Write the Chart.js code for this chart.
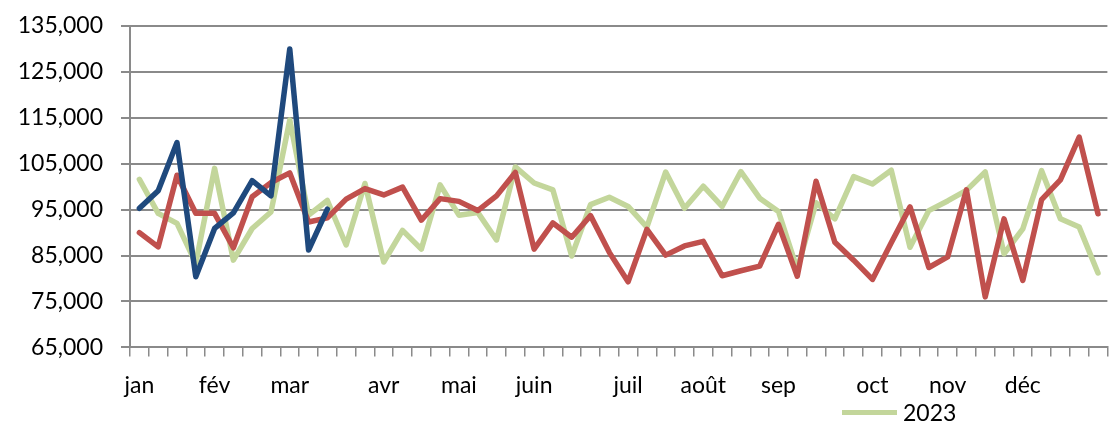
<!DOCTYPE html>
<html>
<head>
<meta charset="utf-8">
<script src="https://cdn.jsdelivr.net/npm/chart.js@4/dist/chart.umd.min.js"></script>
<style>
  html, body { margin: 0; padding: 0; background: #fff; }
  #wrap { position: relative; width: 1113px; height: 424px; overflow: hidden; }
  #legend { position: absolute; left: 842px; top: 398px; font: 23px Lato, sans-serif; color: #000; display: flex; align-items: center; white-space: nowrap; }
  #legend .swatch { display: inline-block; width: 55px; height: 5px; margin-right: 6px; }
</style>
</head>
<body>
<div id="wrap">
  <canvas id="chart" width="1113" height="424"></canvas>
  <div id="legend"></div>
</div>
<script>
// week labels: month name on the first week of each month
const weekLabels = [
  'jan', '', '', '', 'fév', '', '', '', 'mar', '', '', '', '', 'avr', '', '', '', 'mai', '', '', '', 'juin', '', '', '', '',
  'juil', '', '', '', 'août', '', '', '', 'sep', '', '', '', '', 'oct', '', '', '', 'nov', '', '', '', 'déc', '', '', '', ''
];

const series2023 = [
  101600, 94200, 92000, 83300, 104000, 84000, 90900, 94500, 114500, 93800, 97000, 87300, 100700,
  83600, 90500, 86400, 100400, 93800, 94400, 88400, 104300, 100800, 99300, 84900, 96100, 97700,
  95700, 91200, 103200, 95300, 100100, 95700, 103300, 97500, 94600, 82000, 96500, 93000, 102200,
  100600, 103600, 86800, 94800, 96900, 99200, 103200, 85400, 90800, 103500, 93000, 91200, 81200
];

const series2024 = [
  90000, 86900, 102500, 94200, 94200, 86700, 97800, 100900, 103000, 92300, 93200, 97300, 99600,
  98200, 99900, 92700, 97400, 96800, 94800, 98000, 103100, 86400, 92100, 89000, 93700, 85700,
  79300, 90700, 85100, 87100, 88100, 80600, 81700, 82700, 91800, 80500, 101200, 87900, 84000,
  79800, 87800, 95600, 82400, 84700, 99300, 76000, 93000, 79600, 97200, 101500, 110800, 94100
];

const series2025 = [95300, 99100, 109600, 80400, 90900, 94300, 101300, 98000, 130000, 86200, 95100];

const yTickValues = [65000, 75000, 85000, 95000, 105000, 115000, 125000, 135000];

const seriesNames = ['2023', '2024', '2025'];
const seriesColors = ['#c3d69b', '#c0504d', '#1f497d'];
const legendShown = ['2023'];

const gridColor = '#8a8a8a';
const font = { family: 'Lato, sans-serif', size: 23 };

function lineSet(i, values, order) {
  return {
    label: seriesNames[i],
    data: values,
    borderColor: seriesColors[i],
    backgroundColor: seriesColors[i],
    borderWidth: 5.5,
    pointRadius: 0,
    tension: 0,
    borderJoinStyle: 'round',
    borderCapStyle: 'round',
    order: order
  };
}

const chart = new Chart(document.getElementById('chart'), {
  type: 'line',
  data: {
    labels: weekLabels,
    datasets: [
      lineSet(0, series2023, 2),
      lineSet(1, series2024, 1),
      lineSet(2, series2025, 0)
    ]
  },
  options: {
    responsive: false,
    animation: false,
    layout: { padding: { top: 26, right: 1, bottom: 10, left: 0 } },
    plugins: {
      legend: { display: false },
      tooltip: { enabled: false }
    },
    scales: {
      x: {
        offset: true,
        grid: { offset: true, drawOnChartArea: false, drawTicks: true, tickLength: 9, color: gridColor, lineWidth: 1.5 },
        border: { display: true, color: gridColor, width: 2 },
        ticks: { autoSkip: false, maxRotation: 0, minRotation: 0, padding: 15, color: '#000', font: font }
      },
      y: {
        min: yTickValues[0],
        max: yTickValues[yTickValues.length - 1],
        afterBuildTicks: s => { s.ticks = yTickValues.map(v => ({ value: v })); },
        afterFit: s => { s.width = 130; },
        grid: { color: gridColor, lineWidth: 2, tickLength: 9 },
        border: { display: true, color: gridColor, width: 2 },
        ticks: {
          padding: 18,
          color: '#000',
          font: { family: font.family, size: font.size, lineHeight: 0.6 },
          callback: v => v.toLocaleString('en-US')
        }
      }
    }
  }
});

// legend built from the dataset entries that are visible in the original
const legendEl = document.getElementById('legend');
chart.data.datasets.filter(d => legendShown.includes(d.label)).forEach(d => {
  const sw = document.createElement('span');
  sw.className = 'swatch';
  sw.style.background = d.borderColor;
  const tx = document.createElement('span');
  tx.textContent = d.label;
  legendEl.appendChild(sw);
  legendEl.appendChild(tx);
});
</script>
</body>
</html>
